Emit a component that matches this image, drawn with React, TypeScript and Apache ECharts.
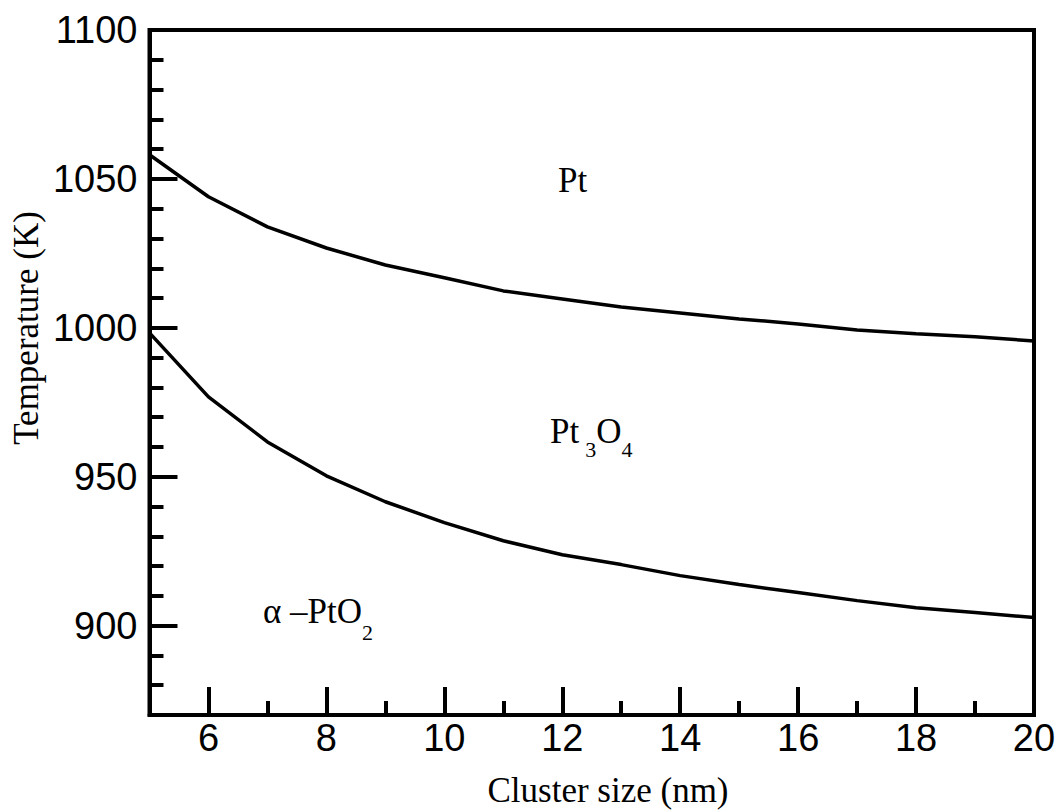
import React, { useEffect, useRef } from "react";
import * as echarts from "echarts";

const clusterSizes = [5, 6, 7, 8, 9, 10, 11, 12, 13, 14, 15, 16, 17, 18, 19, 20];
const ptBoundary = [1058.1, 1044.0, 1033.9, 1026.8, 1021.1, 1016.8, 1012.4, 1009.7, 1007.0, 1005.0, 1003.0, 1001.3, 999.3, 998.0, 997.0, 995.6];
const pt3o4Boundary = [998.3, 976.8, 961.7, 950.3, 941.6, 934.6, 928.5, 923.8, 920.5, 916.8, 913.8, 911.1, 908.4, 906.0, 904.4, 902.7];

const xMajorTicks = [6, 8, 10, 12, 14, 16, 18, 20];
const xMinorTicks = [7, 9, 11, 13, 15, 17, 19];
const yMajorTicks = [900, 950, 1000, 1050, 1100];
const yMinorTicks = [880, 890, 910, 920, 930, 940, 960, 970, 980, 990, 1010, 1020, 1030, 1040, 1060, 1070, 1080, 1090];

const SANS = "Liberation Sans";
const SERIF = "Liberation Serif";

function txt(text: string, x: number, y: number, size: number, align = "left", rotation = 0, rich?: any) {
  return {
    type: "text",
    x,
    y,
    rotation,
    silent: true,
    style: {
      text,
      fontSize: size,
      fontFamily: SERIF,
      fill: "#000",
      align,
      textAlign: align,
      verticalAlign: "middle",
      textVerticalAlign: "middle",
      rich,
    },
  };
}

export default function App() {
  const ref = useRef<HTMLDivElement>(null);
  useEffect(() => {
    if (!ref.current) return;
    const chart = echarts.init(ref.current, null, { renderer: "svg" });
    const axisLine = { show: true, lineStyle: { color: "#000", width: 4 } };
    const plain = (v: number) => String(v);
    chart.setOption({
      animation: false,
      backgroundColor: "#fff",
      grid: {
        left: 149.5,
        top: 30,
        right: 29,
        bottom: 97,
        show: true,
        borderColor: "#000",
        borderWidth: 4,
        backgroundColor: "transparent",
      },
      xAxis: [
        {
          type: "value",
          min: 5,
          max: 20,
          position: "bottom",
          axisLine,
          splitLine: { show: false },
          axisTick: { show: true, inside: true, length: 28, lineStyle: { color: "#000", width: 4 }, customValues: xMajorTicks },
          axisLabel: { customValues: xMajorTicks, formatter: plain, fontSize: 38, fontFamily: SANS, color: "#000", margin: 4 },
        },
        {
          type: "value",
          min: 5,
          max: 20,
          position: "bottom",
          axisLine: { show: false },
          splitLine: { show: false },
          axisTick: { show: true, inside: true, length: 14, lineStyle: { color: "#000", width: 4 }, customValues: xMinorTicks },
          axisLabel: { show: false },
        },
      ],
      yAxis: [
        {
          type: "value",
          min: 870,
          max: 1100,
          position: "left",
          axisLine,
          splitLine: { show: false },
          axisTick: { show: true, inside: true, length: 28, lineStyle: { color: "#000", width: 4 }, customValues: yMajorTicks },
          axisLabel: { customValues: yMajorTicks, formatter: plain, fontSize: 38, fontFamily: SANS, color: "#000", margin: 12 },
        },
        {
          type: "value",
          min: 870,
          max: 1100,
          position: "left",
          axisLine: { show: false },
          splitLine: { show: false },
          axisTick: { show: true, inside: true, length: 14, lineStyle: { color: "#000", width: 4 }, customValues: yMinorTicks },
          axisLabel: { show: false },
        },
      ],
      series: [
        {
          name: "Pt / Pt3O4",
          type: "line",
          xAxisIndex: 0,
          yAxisIndex: 0,
          data: clusterSizes.map((x, i) => [x, ptBoundary[i]]),
          showSymbol: false,
          symbol: "none",
          lineStyle: { color: "#000", width: 3.5 },
          z: 5,
        },
        {
          name: "Pt3O4 / α-PtO2",
          type: "line",
          xAxisIndex: 0,
          yAxisIndex: 0,
          data: clusterSizes.map((x, i) => [x, pt3o4Boundary[i]]),
          showSymbol: false,
          symbol: "none",
          lineStyle: { color: "#000", width: 3.5 },
          z: 5,
        },
      ],
      graphic: [
        txt("Temperature (K)", 26, 328, 35, "center", Math.PI / 2),
        txt("Cluster size (nm)", 608, 790, 35, "center"),
        txt("Pt", 558, 180, 35),
        txt("{m|Pt}{a|3}{m|O}{b|4}", 550, 431, 35, "left", 0, {
          m: { fontSize: 35, fontFamily: SERIF, lineHeight: 40 },
          a: { fontSize: 22, fontFamily: SERIF, lineHeight: 22, padding: [37, 0, 0, 6] },
          b: { fontSize: 22, fontFamily: SERIF, lineHeight: 22, padding: [37, 0, 0, 0] },
        }),
        txt("{m|α –PtO}{a|2}", 263, 611, 35, "left", 0, {
          m: { fontSize: 35, fontFamily: SERIF, lineHeight: 40 },
          a: { fontSize: 22, fontFamily: SERIF, lineHeight: 22, padding: [43, 0, 0, 0] },
        }),
      ],
    });
    return () => chart.dispose();
  }, []);
  return <div ref={ref} style={{ position: "absolute", left: 0, top: 0, width: 1063, height: 812 }} />;
}
